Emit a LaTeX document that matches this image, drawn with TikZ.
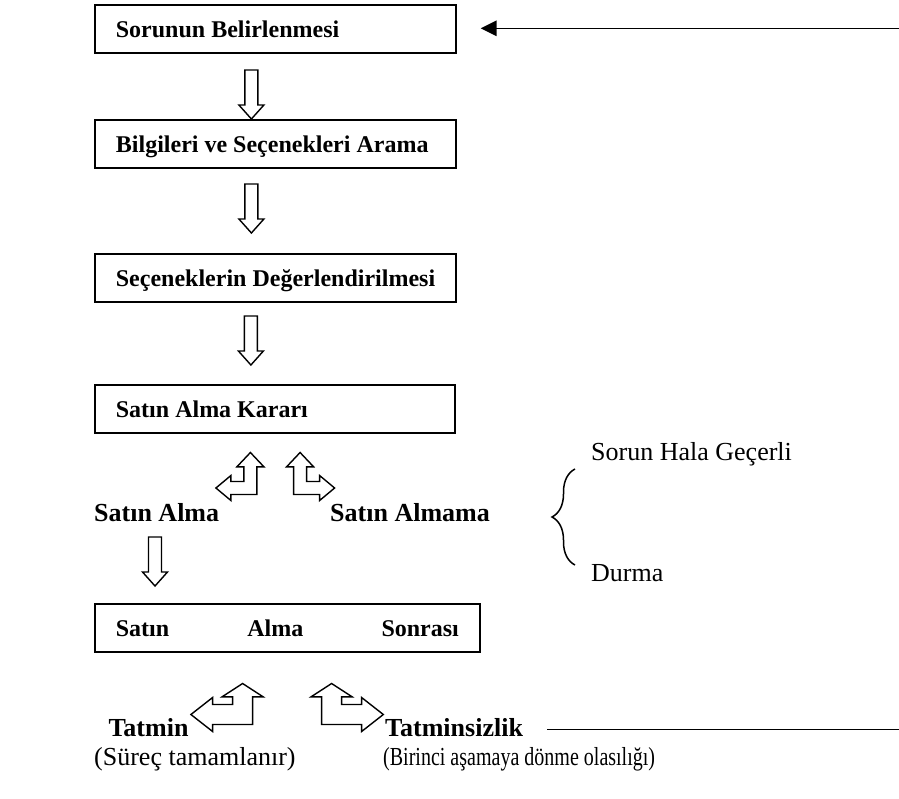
\documentclass[tikz,border=0pt]{standalone}
\usepackage{fontspec}
\setmainfont{Liberation Serif}
\usetikzlibrary{arrows.meta,decorations.pathreplacing}
\begin{document}
\begin{tikzpicture}[x=1pt,y=-1pt,
  stage/.style={draw, line width=1.8pt, rectangle, anchor=north west,
    minimum height=48pt, inner xsep=21pt, inner ysep=0pt,
    text height=17pt, text depth=0pt,
    font=\fontsize{24}{28}\selectfont\bfseries},
  choice/.style={anchor=base west, inner sep=0pt, font=\fontsize{26}{30}\selectfont\bfseries},
  note/.style={anchor=base west, inner sep=0pt, font=\fontsize{26}{30}\selectfont},
  blockarrow/.style={draw, line width=1.4pt, fill=white, line join=miter},
  thinline/.style={line width=1.5pt},
  downarr/.pic={\path[blockarrow] (-6.5,-49) -- (6.5,-49) -- (6.5,-14) -- (12.5,-14)
      -- (0,0) -- (-12.5,-14) -- (-6.5,-14) -- cycle;},
  bentsmall/.pic={\path[blockarrow] (0,0) -- (0,-27.7) -- (7,-27.7) -- (-6.5,-42)
      -- (-20,-27.7) -- (-13,-27.7) -- (-13,-13) -- (-26,-13) -- (-26,-19)
      -- (-41,-6.5) -- (-26,6) -- (-26,0) -- cycle;},
  bentlarge/.pic={\path[blockarrow] (0,0) -- (0,-27.7) -- (10.5,-27.7) -- (-10,-41)
      -- (-30.5,-27.7) -- (-20,-27.7) -- (-20,-20) -- (-40,-20) -- (-40,-27)
      -- (-61.7,-10) -- (-40,7) -- (-40,0) -- cycle;},
]
\useasboundingbox (0,0) rectangle (899,798);

% decision stages
\node[stage] (s1) at (94,4) {\makebox[319pt][l]{Sorunun Belirlenmesi}};
\node[stage] (s2) at (94,119) {\makebox[319pt][l]{Bilgileri ve Seçenekleri Arama}};
\node[stage] (s3) at (94,253) {\makebox[319pt][l]{Seçeneklerin Değerlendirilmesi}};
\node[stage] (s4) at (94,384) {\makebox[318pt][l]{Satın Alma Kararı}};
\node[stage] (s5) at (94,603) {\makebox[343pt][s]{Satın\hfill Alma\hfill Sonrası}};

% outcome labels
\node[choice] (buy) at (94,521.7) {Satın Alma};
\node[choice] (nobuy) at (330,521.7) {Satın Almama};
\node[note] (still) at (591,460) {Sorun Hala Geçerli};
\node[note] (stop) at (591,581.7) {Durma};
\node[choice] (sat) at (108.3,736.7) {Tatmin};
\node[note] (satnote) at (94,765) {(Süreç tamamlanır)};
\node[choice] (unsat) at (385,736.7) {Tatminsizlik};
\node[note] (unsatnote) at (383,765)
  {\scalebox{0.77}[1]{(Birinci aşamaya dönme olasılığı)}};

% block arrows between the stages
\pic (a1) at ([xshift=-24pt]s2.north) {downarr};
\pic (a2) at ([xshift=-24pt,yshift=20pt]s3.north) {downarr};
\pic (a3) at ([xshift=-24pt,yshift=19pt]s4.north) {downarr};
\pic (a4) at ([xshift=61pt,yshift=17pt]s5.north west) {downarr};

% two-way bent arrows below the decision and after-purchase stages
\pic (b1) at ([xshift=-18pt,yshift=-60.7pt]s4.south) {bentsmall};
\pic[xscale=-1] (b2) at ([xshift=18.7pt,yshift=-60.7pt]s4.south) {bentsmall};
\pic (b3) at ([xshift=-34.8pt,yshift=-71.7pt]s5.south) {bentlarge};
\pic[xscale=-1] (b4) at ([xshift=34.2pt,yshift=-71.7pt]s5.south) {bentlarge};

% brace grouping the two outcomes of not buying
\draw[thinline, decorate, decoration={brace, amplitude=23pt}] (575,565) -- (575,469);

% return path to the first stage
\coordinate (retA) at (899,28.3);
\coordinate (retB) at (899,729.3);
\draw[thinline, -{Triangle[length=15.7pt,width=15.4pt]}, shorten >=24pt] (retA) -- (retA -| s1.east);
\draw[thinline, shorten >=23.7pt] (retB) -- (unsat.east |- retB);
\end{tikzpicture}
\end{document}
